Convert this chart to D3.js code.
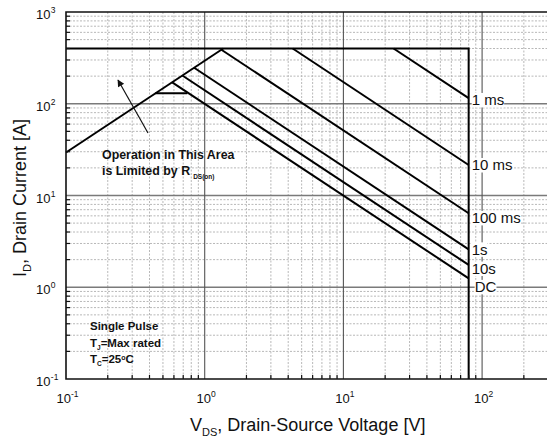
<!DOCTYPE html>
<html>
<head>
<meta charset="utf-8">
<script src="https://cdn.jsdelivr.net/npm/d3@7"></script>
<style>
  body { margin: 0; background: #fff; }
  svg { display: block; }
  text { font-family: "Liberation Sans", Arial, Helvetica, sans-serif; fill: #111; }
</style>
</head>
<body>
<svg id="chart" width="547" height="441"></svg>
<script>
// Safe operating area, log-log axes (V_DS in volts, I_D in amperes)
const xDecades = [0.1, 1, 10, 100];
const xDecadeExp = ["-1", "0", "1", "2"];
const yDecades = [0.1, 1, 10, 100, 1000];
const yDecadeExp = ["-1", "0", "1", "2", "3"];

// Package current limit and breakdown voltage limit (outer boundary)
const boundaryV = [0.1, 80, 80];
const boundaryI = [400, 400, 0.1];

// R_DS(on) limited region
const rdsV = [0.1, 1.36];
const rdsI = [29.4, 400];

// Short horizontal step at the DC curve
const shelfV = [0.44, 0.75];
const shelfI = [130, 130];

// Pulse-width curves: start point and end point at 80 V
const pulseNames = ["1 ms", "10 ms", "100 ms", "1s", "10s", "DC"];
const pulseStartV = [23, 4.31, 1.32, 0.839, 0.69, 0.583];
const pulseStartI = [400, 400, 388, 247, 203, 171];
const pulseEndV = [80, 80, 80, 80, 80, 80];
const pulseEndI = [115, 21.5, 6.4, 2.59, 1.75, 1.25];
// Where each curve's label sits (current level at the 80 V edge)
const labelI = [110, 21.5, 5.7, 2.59, 1.6, 1.01];

const svg = d3.select("#chart");
const plotLeft = 66, plotTop = 12, plotBottom = 379;
const decadeW = 138.7;

const x = d3.scaleLog().domain([0.1, 1000]).range([plotLeft, plotLeft + 4 * decadeW]);
const y = d3.scaleLog().domain([0.1, 1000]).range([plotBottom, plotTop]);
const rightEdge = 547;

const isDecade = v => Math.abs(Math.log10(v) - Math.round(Math.log10(v))) < 1e-9;

svg.append("rect").attr("width", 547).attr("height", 441).attr("fill", "#fff");

const grid = svg.append("g");
const xMinor = x.ticks().filter(v => !isDecade(v) && x(v) <= rightEdge);
const yMinor = y.ticks().filter(v => !isDecade(v));

// minor grid, dotted
grid.selectAll(".xm").data(xMinor).join("line")
  .attr("x1", d => x(d)).attr("x2", d => x(d))
  .attr("y1", plotTop).attr("y2", plotBottom)
  .attr("stroke", "#b8b8b8").attr("stroke-width", 1).attr("stroke-dasharray", "2,1.5");
grid.selectAll(".ym").data(yMinor).join("line")
  .attr("x1", plotLeft).attr("x2", rightEdge)
  .attr("y1", d => y(d)).attr("y2", d => y(d))
  .attr("stroke", "#b8b8b8").attr("stroke-width", 1).attr("stroke-dasharray", "2,1.5");

// decade grid, solid
grid.selectAll(".yM").data(yDecades.slice(1, 4)).join("line")
  .attr("x1", plotLeft).attr("x2", rightEdge)
  .attr("y1", d => y(d)).attr("y2", d => y(d))
  .attr("stroke", "#7a7a7a").attr("stroke-width", 1.5);
grid.selectAll(".xM").data(xDecades.slice(1)).join("line")
  .attr("x1", d => x(d)).attr("x2", d => x(d))
  .attr("y1", plotTop).attr("y2", plotBottom)
  .attr("stroke", "#555").attr("stroke-width", 1.1);

// curves
const line = d3.line().x(d => x(d[0])).y(d => y(d[1]));
const curves = svg.append("g").attr("fill", "none").attr("stroke", "#000")
  .attr("stroke-width", 2).attr("stroke-linejoin", "miter");

curves.append("path").attr("d", line(boundaryV.map((v, i) => [v, boundaryI[i]])));
curves.append("path").attr("d", line(rdsV.map((v, i) => [v, rdsI[i]])));
curves.append("path").attr("d", line(shelfV.map((v, i) => [v, shelfI[i]])));
pulseNames.forEach((n, i) => {
  curves.append("path").attr("d", line([[pulseStartV[i], pulseStartI[i]], [pulseEndV[i], pulseEndI[i]]]));
});

// frame
svg.append("path")
  .attr("d", `M${rightEdge},${plotTop}H${plotLeft}V${plotBottom}H${rightEdge}`)
  .attr("fill", "none").attr("stroke", "#111").attr("stroke-width", 1.6);

// inside tick marks
const ticks = svg.append("g").attr("stroke", "#111").attr("stroke-width", 1.2);
ticks.selectAll(".tx").data(xMinor).join("line")
  .attr("x1", d => x(d)).attr("x2", d => x(d))
  .attr("y1", plotBottom).attr("y2", plotBottom - 4);
ticks.selectAll(".ty").data(yMinor).join("line")
  .attr("x1", plotLeft).attr("x2", plotLeft + 4)
  .attr("y1", d => y(d)).attr("y2", d => y(d));

// tick labels, 10 with superscript exponent
const yl = svg.append("g");
yDecades.forEach((v, i) => {
  yl.append("text").attr("x", 50.5).attr("y", y(v) + 7)
    .attr("text-anchor", "end").attr("font-size", 13).text("10");
  yl.append("text").attr("x", 50.8).attr("y", y(v) + 1)
    .attr("font-size", 8.5).text(yDecadeExp[i]);
});
const xl = svg.append("g");
xDecades.forEach((v, i) => {
  const t = xl.append("text").attr("x", x(v) + 1.5).attr("y", 402.5)
    .attr("text-anchor", "middle").attr("font-size", 13);
  t.append("tspan").text("10");
  t.append("tspan").attr("dy", -6).attr("font-size", 8.5).text(xDecadeExp[i]);
});

// curve labels on white backing
pulseNames.forEach((n, i) => {
  const g = svg.append("g");
  const t = g.append("text")
    .attr("x", x(pulseEndV[i]) + (n === "DC" ? 6 : 3))
    .attr("y", y(labelI[i]) + 5.5)
    .attr("font-size", 15).text(n);
  const b = t.node().getBBox();
  g.insert("rect", "text").attr("x", b.x).attr("y", b.y + 1.5)
    .attr("width", b.width).attr("height", b.height - 2.5).attr("fill", "#fff");
});

// R_DS(on) note with arrow
svg.append("defs").append("marker").attr("id", "ah")
  .attr("viewBox", "0 0 10 10").attr("refX", 9).attr("refY", 5)
  .attr("markerWidth", 9).attr("markerHeight", 7).attr("orient", "auto")
  .attr("markerUnits", "userSpaceOnUse")
  .append("path").attr("d", "M0,0L10,5L0,10Z").attr("fill", "#111");
svg.append("line").attr("x1", 148).attr("y1", 133).attr("x2", 118).attr("y2", 80)
  .attr("stroke", "#111").attr("stroke-width", 1.2).attr("marker-end", "url(#ah)");

const note = svg.append("g").attr("font-weight", "bold").attr("font-size", 12.4);
note.append("text").attr("x", 102).attr("y", 158.5).text("Operation in This Area");
const n2 = note.append("text").attr("x", 102).attr("y", 175);
n2.append("tspan").text("is Limited by R");
n2.append("tspan").attr("dx", 3).attr("dy", 4).attr("font-size", 6.5).text("DS(on)");

// test conditions
const cond = svg.append("g").attr("font-weight", "bold").attr("font-size", 11.5);
cond.append("text").attr("x", 90).attr("y", 330).text("Single Pulse");
const c2 = cond.append("text").attr("x", 90).attr("y", 346.5);
c2.append("tspan").text("T");
c2.append("tspan").attr("dy", 3).attr("font-size", 6.5).text("J");
c2.append("tspan").attr("dy", -3).text("=Max rated");
const c3 = cond.append("text").attr("x", 90).attr("y", 363);
c3.append("tspan").text("T");
c3.append("tspan").attr("dy", 3).attr("font-size", 6.5).text("C");
c3.append("tspan").attr("dy", -3).text("=25");
c3.append("tspan").attr("font-size", 7).attr("dy", -3).text("o");
c3.append("tspan").attr("dy", 3).text("C");

// axis titles
const xt = svg.append("text").attr("x", 190).attr("y", 431).attr("font-size", 18);
xt.append("tspan").text("V");
xt.append("tspan").attr("dy", 5).attr("font-size", 11).text("DS");
xt.append("tspan").attr("dy", -5).text(", Drain-Source Voltage [V]");

const yt = svg.append("text").attr("transform", "translate(25.5,277) rotate(-90)").attr("font-size", 18);
yt.append("tspan").text("I");
yt.append("tspan").attr("dy", 5).attr("font-size", 11).text("D");
yt.append("tspan").attr("dy", -5).text(", Drain Current [A]");
</script>
</body>
</html>
